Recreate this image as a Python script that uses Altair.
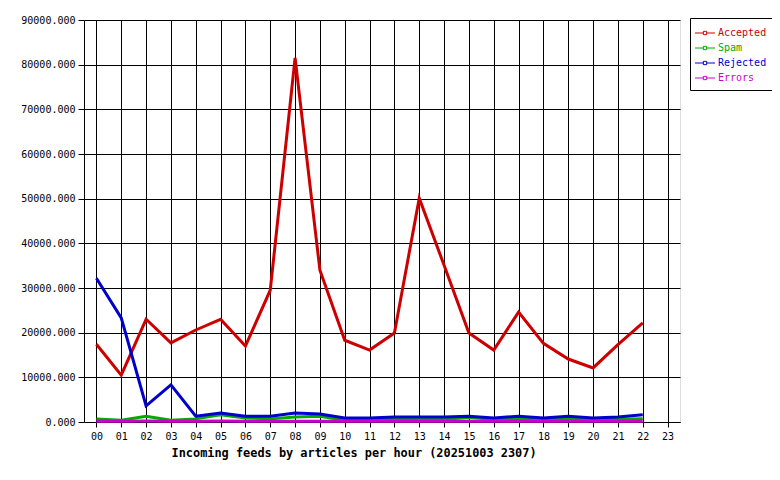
import altair as alt
import pandas as pd

hours_all = [f"{h:02d}" for h in range(24)]
hours = hours_all[:23]

accepted = [17400, 10500, 23000, 17700, 20600, 23000, 17000, 29500, 81500, 34000,
            18300, 16100, 19900, 50100, 35100, 19900, 16100, 24600, 17600, 14100,
            12100, 17300, 22200]
spam = [700, 400, 1300, 400, 700, 1600, 900, 700, 1100, 1300,
        400, 400, 600, 600, 600, 1000, 600, 700, 500, 700,
        500, 600, 700]
rejected = [32200, 23300, 3600, 8300, 1300, 2000, 1300, 1300, 2000, 1800,
            900, 900, 1100, 1100, 1100, 1300, 900, 1300, 900, 1300,
            900, 1100, 1600]
errors = [150, 150, 200, 150, 150, 200, 150, 150, 150, 150,
          150, 150, 150, 150, 150, 150, 150, 150, 150, 150,
          150, 150, 150]

series = ["Accepted", "Spam", "Rejected", "Errors"]
colors = ["#cc0000", "#00aa00", "#0000cc", "#cc00cc"]

rows = []
for name, vals in zip(series, [accepted, spam, rejected, errors]):
    for h, v in zip(hours, vals):
        rows.append({"hour": h, "value": v, "series": name})
df = pd.DataFrame(rows)

font = "DejaVu Sans Mono"

legend_symbol = "M-1.33,0L-0.22,0M0.22,0L1.33,0M-0.22,-0.22L0.22,-0.22L0.22,0.22L-0.22,0.22Z"

chart = alt.Chart(df).mark_line(strokeWidth=3).encode(
    x=alt.X("hour:O",
            scale=alt.Scale(type="point", domain=hours_all, padding=0.5),
            axis=alt.Axis(title="Incoming feeds by articles per hour (20251003 2307)",
                          labelAngle=0, grid=True, gridColor="black", gridOpacity=1,
                          gridWidth=1, tickSize=5, tickColor="black",
                          domainColor="black", labelFont=font, labelFontSize=10,
                          labelColor="black", labelPadding=4,
                          titleFont=font, titleFontSize=11.9, titleFontWeight="bold",
                          titleColor="black", titleAlign="left", titleAnchor="start",
                          titleX=87, titleY=34, titleBaseline="alphabetic")),
    y=alt.Y("value:Q",
            scale=alt.Scale(domain=[0, 90000], nice=False),
            axis=alt.Axis(title=None, values=list(range(0, 90001, 10000)), format=".3f",
                          grid=True, gridColor="black", gridOpacity=1, gridWidth=1,
                          tickSize=6, tickColor="black", domainColor="black",
                          labelFont=font, labelFontSize=10, labelColor="black",
                          labelPadding=3)),
    color=alt.Color("series:N",
                    scale=alt.Scale(domain=series, range=colors),
                    legend=alt.Legend(title=None, orient="none", legendX=606, legendY=-2,
                                      symbolType=legend_symbol, symbolSize=225,
                                      symbolStrokeWidth=1, symbolFillColor="transparent",
                                      labelFont=font, labelFontSize=10, labelOffset=5,
                                      labelColor=alt.ExprRef("scale('color', datum.value)"),
                                      strokeColor="black", padding=7, rowPadding=2,
                                      fillColor="white")),
    order=alt.Order("series:N"),
).properties(
    width=596,
    height=402,
    padding={"left": 76, "top": 12, "right": 92, "bottom": 50},
    autosize=alt.AutoSizeParams(type="none"),
).configure_view(
    fill="#e0e0e0", stroke="black", strokeWidth=1
).configure(background="white")

chart.save("out.html", embed_options={"renderer": "svg", "actions": False})
